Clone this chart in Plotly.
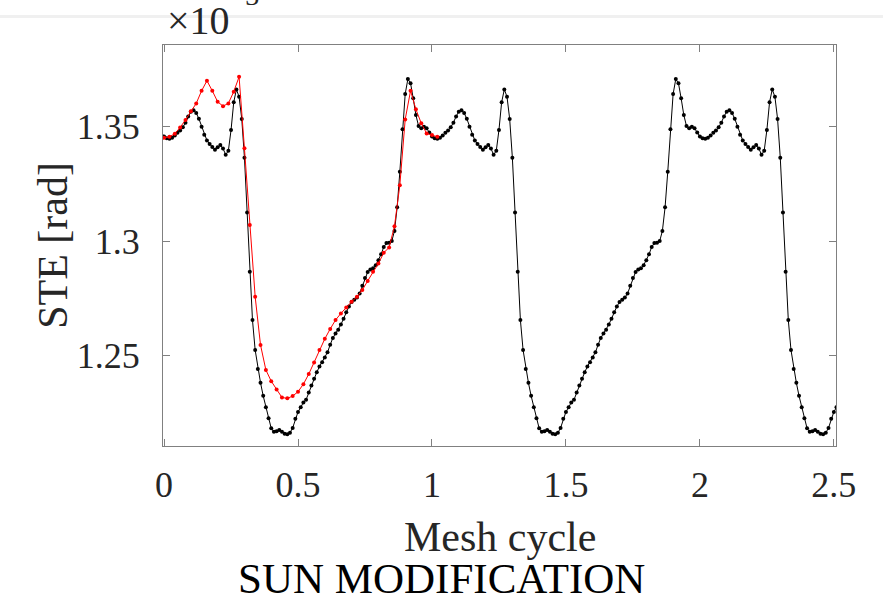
import numpy as np
import plotly.graph_objects as go

# ---------------- data (values in units of 1e-3 rad) ----------------
black_x = np.round(np.arange(0, 2.515, 0.01), 2)
black_y = [
    # 0.00 - 0.99
    1.3458, 1.3450, 1.3448, 1.3452, 1.3462, 1.3474, 1.3484, 1.3498, 1.3518, 1.3545,
    1.3566, 1.3572, 1.3560, 1.3535, 1.3500, 1.3465, 1.3440, 1.3425, 1.3412, 1.3400,
    1.3410, 1.3420, 1.3405, 1.3378, 1.3395, 1.3486, 1.3607, 1.3663, 1.3631, 1.3534,
    1.3365, 1.3126, 1.2867, 1.2656, 1.2525, 1.2442, 1.2382, 1.2325, 1.2275, 1.2227,
    1.2183, 1.2168, 1.2170, 1.2176, 1.2168, 1.2160, 1.2157, 1.2164, 1.2185, 1.2225,
    1.2255, 1.2275, 1.2296, 1.2308, 1.2340, 1.2370, 1.2400, 1.2428, 1.2453, 1.2472,
    1.2492, 1.2515, 1.2548, 1.2578, 1.2597, 1.2614, 1.2636, 1.2662, 1.2690, 1.2715,
    1.2735, 1.2745, 1.2754, 1.2772, 1.2806, 1.2840, 1.2866, 1.2877, 1.2882, 1.2895,
    1.2917, 1.2943, 1.2975, 1.2992, 1.2993, 1.3001, 1.3045, 1.3148, 1.3303, 1.3489,
    1.3643, 1.3708, 1.3690, 1.3624, 1.3551, 1.3503, 1.3493, 1.3500, 1.3493, 1.3475,
    # 1.00 - 1.99
    1.3458, 1.3450, 1.3448, 1.3452, 1.3462, 1.3474, 1.3484, 1.3498, 1.3518, 1.3545,
    1.3566, 1.3572, 1.3560, 1.3535, 1.3500, 1.3465, 1.3440, 1.3425, 1.3412, 1.3400,
    1.3410, 1.3420, 1.3405, 1.3378, 1.3395, 1.3486, 1.3607, 1.3663, 1.3631, 1.3534,
    1.3365, 1.3126, 1.2867, 1.2656, 1.2525, 1.2442, 1.2382, 1.2325, 1.2275, 1.2227,
    1.2183, 1.2168, 1.2170, 1.2176, 1.2168, 1.2160, 1.2157, 1.2164, 1.2185, 1.2225,
    1.2255, 1.2275, 1.2296, 1.2308, 1.2340, 1.2370, 1.2400, 1.2428, 1.2453, 1.2472,
    1.2492, 1.2515, 1.2548, 1.2578, 1.2597, 1.2614, 1.2636, 1.2662, 1.2690, 1.2715,
    1.2735, 1.2745, 1.2754, 1.2772, 1.2806, 1.2840, 1.2866, 1.2877, 1.2882, 1.2895,
    1.2917, 1.2943, 1.2975, 1.2992, 1.2993, 1.3001, 1.3045, 1.3148, 1.3303, 1.3489,
    1.3643, 1.3708, 1.3690, 1.3624, 1.3551, 1.3503, 1.3493, 1.3500, 1.3493, 1.3475,
    # 2.00 - 2.51
    1.3458, 1.3450, 1.3448, 1.3452, 1.3462, 1.3474, 1.3484, 1.3498, 1.3518, 1.3545,
    1.3566, 1.3572, 1.3560, 1.3535, 1.3500, 1.3465, 1.3440, 1.3425, 1.3412, 1.3400,
    1.3410, 1.3420, 1.3405, 1.3378, 1.3395, 1.3486, 1.3607, 1.3663, 1.3631, 1.3534,
    1.3365, 1.3126, 1.2867, 1.2656, 1.2525, 1.2442, 1.2382, 1.2325, 1.2275, 1.2227,
    1.2183, 1.2168, 1.2170, 1.2176, 1.2168, 1.2160, 1.2157, 1.2164, 1.2185, 1.2225,
    1.2255, 1.2275,
]

red_x = np.round(np.arange(0, 1.025, 0.02), 2)
red_y = [
    1.3452, 1.3456, 1.3470, 1.3497, 1.3530, 1.3568, 1.3602, 1.3657, 1.3701, 1.3657,
    1.3609, 1.3590, 1.3602, 1.3653, 1.3718, 1.3406, 1.3071, 1.2758, 1.2547, 1.2438,
    1.2389, 1.2353, 1.2318, 1.2314, 1.2324, 1.2343, 1.2376, 1.2420, 1.2471, 1.2525,
    1.2574, 1.2617, 1.2656, 1.2685, 1.2711, 1.2736, 1.2758, 1.2787, 1.2827, 1.2867,
    1.2903, 1.2950, 1.2973, 1.3066, 1.3245, 1.3532, 1.3657, 1.3576, 1.3515, 1.3471,
    1.3464, 1.3456,
]

x_tickvals = [0, 0.5, 1, 1.5, 2, 2.5]
x_ticktext = ["0", "0.5", "1", "1.5", "2", "2.5"]
y_tickvals = [1.25, 1.3, 1.35]
y_ticktext = ["1.25", "1.3", "1.35"]

FONT = "Liberation Serif"
AX = "#808080"
TXT = "#262626"

fig = go.Figure()
fig.add_trace(go.Scatter(
    x=black_x, y=black_y, mode="lines+markers",
    line=dict(color="black", width=1),
    marker=dict(color="black", size=4),
    showlegend=False,
))
fig.add_trace(go.Scatter(
    x=red_x, y=red_y, mode="lines+markers",
    line=dict(color="#ff0000", width=1),
    marker=dict(color="#ff0000", size=4),
    showlegend=False,
))

axis_common = dict(
    showline=True, linecolor=AX, linewidth=1.2, mirror="ticks",
    ticks="inside", ticklen=7, tickcolor=AX, tickwidth=1,
    showgrid=False, zeroline=False,
    tickfont=dict(family=FONT, size=36, color=TXT),
)

fig.update_layout(
    width=883, height=599,
    margin=dict(l=163, r=47, t=45, b=153),
    paper_bgcolor="white", plot_bgcolor="white",
    xaxis=dict(range=[-0.004, 2.508], tickvals=x_tickvals, ticktext=x_ticktext,
               ticklabelstandoff=7, **axis_common),
    yaxis=dict(range=[1.2106, 1.3857], tickvals=y_tickvals, ticktext=y_ticktext,
               ticklabelstandoff=15, **axis_common),
    shapes=[dict(type="rect", xref="paper", yref="paper",
                 x0=-0.25, x1=1.1, y0=1 + (45 - 18) / 401, y1=1 + (45 - 15) / 401,
                 fillcolor="#f0f0f0", line=dict(width=0), layer="below")],
    annotations=[
        dict(text="×10", xref="paper", yref="paper",
             x=0.003, y=1 + (45 - 21) / 401, xanchor="left", yanchor="middle",
             showarrow=False, font=dict(family=FONT, size=40, color=TXT)),
        dict(text="-3", xref="paper", yref="paper",
             x=(234 - 162.7) / 673.3, y=1 + (45 + 4) / 401, xanchor="left", yanchor="middle",
             showarrow=False, font=dict(family=FONT, size=28, color=TXT)),
        dict(text="STE [rad]", xref="paper", yref="paper", textangle=-90,
             x=(52 - 162.7) / 673.3, y=0.5, xanchor="center", yanchor="middle",
             showarrow=False, font=dict(family=FONT, size=42, color=TXT)),
        dict(text="Mesh cycle", xref="paper", yref="paper",
             x=0.5, y=(446 - 537) / 401, xanchor="center", yanchor="middle",
             showarrow=False, font=dict(family=FONT, size=42, color=TXT)),
        dict(text="SUN MODIFICATION", xref="paper", yref="paper",
             x=(441 - 162.7) / 673.3, y=(446 - 578) / 401, xanchor="center", yanchor="middle",
             showarrow=False, font=dict(family=FONT, size=43, color="black")),
    ],
)

fig.write_html("out.html", config={"displayModeBar": False},
               post_script="document.body.style.margin='0';document.body.style.overflow='hidden';")
